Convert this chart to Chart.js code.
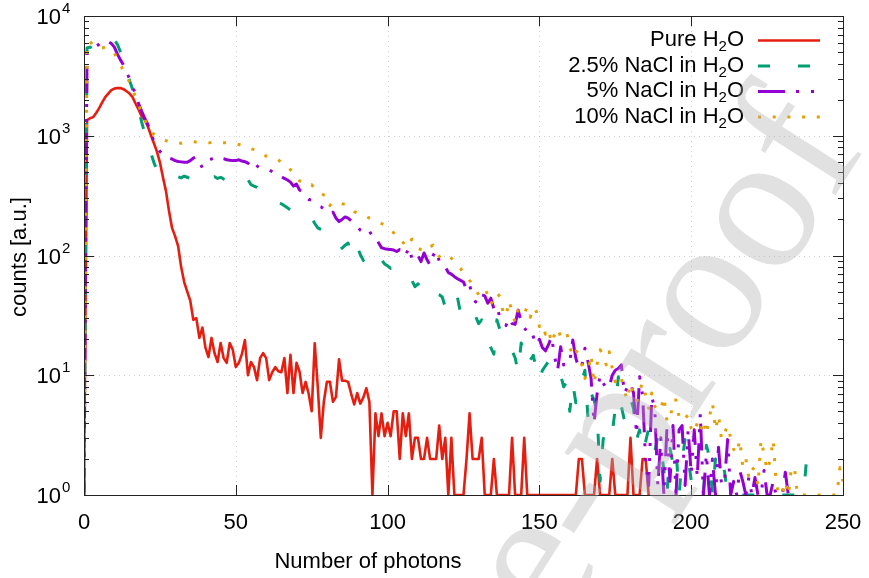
<!DOCTYPE html>
<html>
<head>
<meta charset="utf-8">
<script src="https://cdn.jsdelivr.net/npm/chart.js@4.4.1/dist/chart.umd.min.js"></script>
<style>
  html, body { margin: 0; padding: 0; background: #fff; }
  canvas { display: block; }
</style>
</head>
<body>
<canvas id="photonChart" width="869" height="578"></canvas>
<script>
// --- data (counts per photon number, index = photon number) ---
const seriesNames = ['Pure H₂O', '2.5% NaCl in H₂O', '5% NaCl in H₂O', '10% NaCl in H₂O'];

const pureWater = [
  1, 1350, 1400, 1430, 1550, 1700, 1900, 2100, 2250, 2400,
  2480, 2500, 2500, 2450, 2350, 2250, 2100, 1850, 1650, 1450,
  1360, 1200, 1020, 870, 740, 600, 450, 345, 235, 170,
  145, 120, 80, 60, 50, 42, 29, 30, 20.5, 25,
  17, 14.2, 20.5, 15.3, 12.9, 18.6, 13.9, 12.7, 18.6, 16.3,
  11.7, 12.7, 15, 19.7, 10, 12.9, 11.7, 9.1, 13.9, 15.3,
  13.9, 9.1, 10.6, 11.7, 10.8, 10.6, 13.9, 7.1, 14.8, 7.1,
  12.7, 10.7, 7.1, 8.8, 7, 5, 18.5, 8, 3, 6,
  8.8, 8.8, 6, 6.6, 13.6, 9, 9, 8.8, 7, 5.7,
  7.1, 5.8, 6.5, 7.8, 6, 1, 4.8, 3.1, 4.8, 3.1,
  4, 3.1, 5, 5, 2, 4.8, 3.1, 4.8, 2, 3,
  3, 2, 2, 3, 2, 2, 2, 3.8, 2, 3,
  1, 3, 1, 1, 1, 1, 2, 4.8, 2, 2,
  2, 3, 1, 1, 1, 2, 1, 1, 1, 1,
  1, 3, 1, 1, 1, 3, 1, 1, 1, 1,
  1, 1, 1, 1, 1, 1, 1, 1, 1, 1,
  1, 1, 1, 2, 2, 1, 1, 1, 1, 2,
  1, 1, 1, 1, 2, 1, 1, 1, 1, 1,
  3, 1, 1, 1, 2, 2, 1
];

const nacl25 = [
  1, 5400, 5500, 5300, 5500, 5700, 5900, 6100, 6300, 6500,
  6300, 5800, 5000, 4200, 3500, 2900, 2450, 2000, 1650, 1300,
  1050, 870, 720, 600, 520, 480, 470, 475, 455, 460,
  450, 455, 445, 460, 450, 440, 450, 470, 445, 455,
  460, 440, 450, 455, 440, 450, 435, 425, 445, 430,
  420, 440, 455, 450, 430, 390, 380, 370, 350, 340,
  330, 320, 300, 285, 275, 270, 260, 250, 240, 230,
  220, 217, 212, 205, 200, 206, 185, 170, 165, 160,
  150, 148, 145, 140, 128, 115, 122, 127, 97, 110,
  118, 102, 91, 98, 95, 90, 97, 87, 92, 85,
  82, 78, 80, 80, 71, 70, 66, 63, 62, 55,
  58, 54, 56, 59, 52, 50, 48, 47, 45, 37,
  40, 42, 38, 45, 33, 34, 30, 29, 32, 31,
  27, 29, 23, 19, 17, 15, 29, 24, 20, 18,
  17, 16, 14, 10.6, 18.6, 15, 12, 13.4, 14.7, 11,
  9, 11, 12, 13, 11, 10, 9.5, 10, 8, 8.8,
  5, 8.6, 5.9, 7, 9, 11, 4.4, 7.1, 6.2, 5,
  1.3, 2.9, 3.5, 3.8, 3.3, 5.3, 9.7, 5.5, 4.2, 5,
  6.4, 5.3, 2.9, 3.5, 2.3, 2.8, 3.6, 2.9, 2.3, 3.1,
  2.5, 1.6, 1, 2.45, 1.84, 2.4, 1, 2, 2.9, 2,
  1.33, 1.07, 1, 1, 1, 2.6, 2.1, 1, 2, 1.7,
  2, 1.55, 1, 1, 1, 1, 1, 1, 1, 1,
  1, 1, 1, 1, 1, 1, 1, 1, 1, 1,
  1, 1, 1, 1, 1, 1, 1, 1, 2
];

const nacl5 = [
  1, 5000, 5300, 5500, 5600, 5800, 6100, 6200, 6100, 5900,
  5500, 4800, 4300, 3900, 3400, 3000, 2600, 2200, 1850, 1600,
  1400, 1250, 1050, 900, 800, 740, 700, 680, 650, 640,
  620, 610, 605, 600, 600, 620, 650, 670, 600, 540,
  600, 630, 640, 650, 640, 650, 645, 630, 625, 620,
  620, 630, 615, 607, 590, 560, 600, 560, 535, 540,
  525, 518, 500, 480, 465, 455, 440, 427, 410, 380,
  395, 352, 340, 310, 294, 290, 270, 259, 255, 245,
  240, 225, 230, 205, 192, 200, 210, 205, 195, 186,
  175, 163, 158, 150, 160, 145, 144, 128, 116, 114,
  113, 112, 111, 108, 112, 111, 100, 118, 95, 91,
  100, 89, 105, 92, 83, 100, 111, 90, 82, 80,
  72, 70, 66.5, 64, 62, 60, 52, 57, 45, 41,
  48, 47, 46, 40, 44, 36, 38, 30, 28, 26,
  30, 27, 26.6, 35, 28, 25, 23, 24, 21, 18,
  20, 17, 16, 18, 21, 14.3, 11, 17.3, 12.2, 13.4,
  13, 19.7, 13.9, 11.4, 12, 16.8, 13, 9.5, 4, 7,
  10, 8.6, 7.8, 8, 10, 11, 11.4, 12.2, 7, 8,
  8.6, 7.1, 3.2, 9.7, 6.8, 1.9, 1.2, 6.6, 5.3, 1.2,
  3, 1, 3.6, 1.3, 3.8, 1, 3.5, 3.8, 1.2, 3.5,
  1.5, 3.5, 1.4, 4.8, 1, 2.2, 1, 2, 1, 2.5,
  1.2, 1.3, 2.9, 1, 1.3, 1, 1.6, 1.3, 1, 1.4,
  1, 1.4, 1, 1, 1.6, 1, 1, 1.3, 1, 1,
  1, 1.55, 1
];

const nacl10 = [
  1, 6000, 6100, 5700, 5400, 5370, 5400, 5500, 5400, 5200,
  4900, 4400, 3900, 3500, 3200, 2800, 2450, 2100, 1800, 1550,
  1380, 1200, 1100, 1030, 990, 960, 930, 910, 892, 890,
  880, 870, 865, 870, 880, 890, 892, 885, 880, 875,
  875, 872, 878, 875, 875, 876, 874, 875, 875, 870,
  860, 845, 830, 821, 800, 780, 765, 750, 720, 690,
  677, 670, 660, 656, 630, 600, 589, 560, 520, 500,
  460, 420, 410, 395, 381, 390, 360, 337, 330, 320,
  316, 261, 280, 276, 276, 270, 268, 255, 245, 232,
  228, 222, 218, 212, 205, 200, 194, 190, 185, 180,
  170, 160, 155, 150, 145, 130, 117, 125, 137, 119,
  115, 112, 110, 108, 118, 122, 105, 98, 102, 104,
  100, 95, 88, 82, 78, 72, 68, 62, 57, 52,
  47, 50, 53, 47, 39, 44, 49, 45, 34, 31,
  42, 34, 27.5, 35, 36.7, 33, 37, 30.5, 37, 34,
  25.5, 27, 22, 24.3, 18.5, 22, 24.7, 21, 20.7, 22.7,
  17.3, 14.3, 16, 15.2, 12.2, 9.4, 11, 14.8, 8.5, 12.4,
  16.3, 14.8, 12.2, 15.7, 11.4, 8.8, 10, 9.4, 7.3, 6.2,
  8.6, 7, 6, 7.5, 8.6, 6.8, 5.3, 7.1, 5.5, 5,
  5.2, 6.6, 4.2, 4.1, 6.2, 6.2, 4.5, 4.8, 4.4, 4.65,
  3.6, 3.3, 4, 3.4, 4.2, 3.2, 4.5, 5.9, 3.5, 4.65,
  2.9, 3.3, 3.8, 3, 2.4, 2.2, 2.9, 1.7, 2, 1.4,
  1.7, 1.6, 1.2, 2.9, 2.2, 1.6, 1.96, 2.9, 1.25, 1,
  1, 1.3, 1, 1.7, 1.7, 1, 1, 1, 1, 1,
  1, 1, 1, 1, 1, 1, 1, 1, 1, 1.7,
  1.3
];

// tick labels
const xTicks = [0, 50, 100, 150, 200, 250];
const yDecades = [1, 10, 100, 1000, 10000];
const yExponents = ['0', '1', '2', '3', '4'];
const xTitle = 'Number of photons';
const yTitle = 'counts [a.u.]';

// --- helpers ---
const FONT = '"Liberation Sans", Arial, sans-serif';

function toPoints(arr) {
    return arr.map((v, i) => ({ x: i, y: v }));
}

// draws a label like "5% NaCl in H₂O" right-aligned, with a real subscript 2
function drawSubLabel(ctx, label, rightX, midY) {
    const parts = label.split('₂');
    const big = '22px ' + FONT, small = '15px ' + FONT;
    ctx.font = big;
    const w0 = ctx.measureText(parts[0]).width;
    const w2 = parts[1] !== undefined ? ctx.measureText(parts[1]).width : 0;
    ctx.font = small;
    const ws = parts[1] !== undefined ? ctx.measureText('2').width : 0;
    let x = rightX - (w0 + ws + w2);
    ctx.textAlign = 'left';
    ctx.textBaseline = 'middle';
    ctx.font = big;
    ctx.fillText(parts[0], x, midY);
    if (parts[1] !== undefined) {
        x += w0;
        ctx.font = small;
        ctx.fillText('2', x, midY + 7);
        x += ws;
        ctx.font = big;
        ctx.fillText(parts[1], x, midY);
    }
}

// gnuplot-like frame, ticks, labels, key and the watermark
const gnuplotLook = {
    id: 'gnuplotLook',
    beforeDatasetsDraw(chart) {
        const { ctx, chartArea: a, scales: { x, y } } = chart;
        ctx.save();
        ctx.strokeStyle = 'rgba(170,170,170,0.55)';
        ctx.lineWidth = 1;
        ctx.setLineDash([1, 4]);
        xTicks.slice(1, -1).forEach(v => {
            const px = Math.round(x.getPixelForValue(v)) + 0.5;
            ctx.beginPath(); ctx.moveTo(px, a.top); ctx.lineTo(px, a.bottom); ctx.stroke();
        });
        yDecades.slice(1, -1).forEach(v => {
            const py = Math.round(y.getPixelForValue(v)) + 0.5;
            ctx.beginPath(); ctx.moveTo(a.left, py); ctx.lineTo(a.right, py); ctx.stroke();
        });
        ctx.restore();
    },
    afterDatasetsDraw(chart) {
        const { ctx, chartArea: a, scales: { x, y } } = chart;
        ctx.save();
        ctx.strokeStyle = '#222';
        ctx.lineWidth = 1;
        ctx.setLineDash([]);
        ctx.strokeRect(a.left + 0.5, a.top + 0.5, a.right - a.left, a.bottom - a.top);

        // x ticks (inside, mirrored on top)
        ctx.beginPath();
        xTicks.forEach(v => {
            const px = Math.round(x.getPixelForValue(v)) + 0.5;
            ctx.moveTo(px, a.bottom); ctx.lineTo(px, a.bottom - 10);
            ctx.moveTo(px, a.top); ctx.lineTo(px, a.top + 10);
        });
        // y ticks, major decades and minor 2..9
        yDecades.forEach((d, i) => {
            const py = Math.round(y.getPixelForValue(d)) + 0.5;
            ctx.moveTo(a.left, py); ctx.lineTo(a.left + 10, py);
            ctx.moveTo(a.right, py); ctx.lineTo(a.right - 10, py);
            if (i < yDecades.length - 1) {
                for (let m = 2; m <= 9; m++) {
                    const pm = Math.round(y.getPixelForValue(d * m)) + 0.5;
                    ctx.moveTo(a.left, pm); ctx.lineTo(a.left + 5, pm);
                    ctx.moveTo(a.right, pm); ctx.lineTo(a.right - 5, pm);
                }
            }
        });
        ctx.stroke();

        // tick labels
        ctx.fillStyle = '#000';
        ctx.font = '22px ' + FONT;
        ctx.textAlign = 'center';
        ctx.textBaseline = 'middle';
        xTicks.forEach(v => ctx.fillText(String(v), x.getPixelForValue(v), a.bottom + 28));
        yDecades.forEach((d, i) => {
            const py = y.getPixelForValue(d);
            ctx.font = '22px ' + FONT;
            ctx.textAlign = 'right';
            ctx.fillText('10', a.left - 23, py + 2);
            ctx.font = '15px ' + FONT;
            ctx.textAlign = 'left';
            ctx.fillText(yExponents[i], a.left - 22, py - 7);
        });

        // axis titles
        ctx.font = '22px ' + FONT;
        ctx.textAlign = 'center';
        ctx.fillText(xTitle, 368, 562);
        ctx.save();
        ctx.translate(20, 257);
        ctx.rotate(-Math.PI / 2);
        ctx.fillText(yTitle, 0, 0);
        ctx.restore();

        // key: text right-aligned, sample line to the right
        chart.data.datasets.forEach((ds, i) => {
            const ry = 40 + i * 25.5;
            ctx.fillStyle = '#000';
            drawSubLabel(ctx, ds.label, 744, ry);
            ctx.save();
            ctx.strokeStyle = ds.borderColor;
            ctx.lineWidth = ds.borderWidth;
            ctx.setLineDash(ds.borderDash || []);
            ctx.lineCap = 'butt';
            ctx.beginPath();
            ctx.moveTo(758, ry + 0.5);
            ctx.lineTo(820, ry + 0.5);
            ctx.stroke();
            ctx.restore();
        });
        ctx.restore();
    },
    afterDraw(chart) {
        const ctx = chart.ctx;
        ctx.save();
        ctx.translate(638, 505);
        ctx.rotate(-57.5 * Math.PI / 180);
        ctx.font = '196px "Liberation Serif", "DejaVu Serif", serif';
        ctx.fillStyle = 'rgba(175,175,175,0.38)';
        ctx.textBaseline = 'alphabetic';
        ctx.textAlign = 'right';
        ctx.fillText('Journal Pre-', 0, 0);
        ctx.textAlign = 'left';
        ctx.fillText('proof', 0, 0);
        ctx.restore();
    }
};

document.addEventListener('DOMContentLoaded', function() {
    const ctx = document.getElementById('photonChart').getContext('2d');
    new Chart(ctx, {
        type: 'line',
        data: {
            datasets: [
                {
                    label: seriesNames[0],
                    data: toPoints(pureWater),
                    borderColor: '#e51e10',
                    borderWidth: 2.6,
                    order: 4
                },
                {
                    label: seriesNames[1],
                    data: toPoints(nacl25),
                    borderColor: '#009e73',
                    borderWidth: 3,
                    borderDash: [12, 28],
                    order: 3
                },
                {
                    label: seriesNames[2],
                    data: toPoints(nacl5),
                    borderColor: '#9400d3',
                    borderWidth: 3,
                    borderDash: [27, 11, 3, 12, 3, 11],
                    order: 2
                },
                {
                    label: seriesNames[3],
                    data: toPoints(nacl10),
                    borderColor: '#e69f00',
                    borderWidth: 3,
                    borderDash: [3, 11.7],
                    order: 1
                }
            ]
        },
        options: {
            responsive: false,
            animation: false,
            devicePixelRatio: 1,
            layout: { padding: { left: 84, right: 26, top: 16, bottom: 83 } },
            elements: {
                point: { radius: 0 },
                line: { tension: 0, borderCapStyle: 'butt', borderJoinStyle: 'round', fill: false }
            },
            plugins: {
                legend: { display: false },
                tooltip: { enabled: false }
            },
            scales: {
                x: { type: 'linear', min: 0, max: 250, display: false },
                y: { type: 'logarithmic', min: 1, max: 10000, display: false }
            }
        },
        plugins: [gnuplotLook]
    });
});
</script>
</body>
</html>
